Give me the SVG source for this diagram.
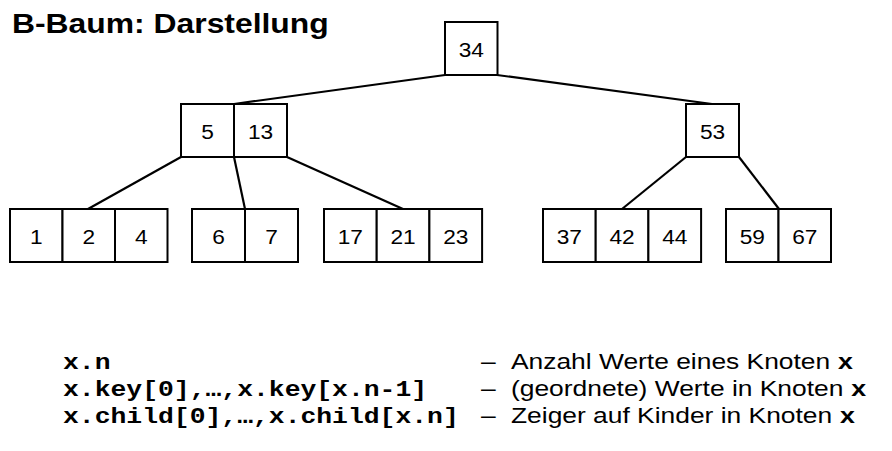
<svg xmlns="http://www.w3.org/2000/svg" width="892" height="451" viewBox="0 0 892 451">
<style>
.cell{fill:#fff;stroke:#000;stroke-width:2}
.num{font-family:"Liberation Sans",Arial,sans-serif;font-size:21px;text-anchor:middle;fill:#000}
.edge{stroke:#000;stroke-width:2.2;fill:none}
.title{font-family:"Liberation Sans",Arial,sans-serif;font-size:27px;font-weight:bold;fill:#000}
.mono{font-family:"Liberation Mono","Courier New",monospace;font-size:22px;font-weight:bold;fill:#000}
.txt{font-family:"Liberation Sans",Arial,sans-serif;font-size:22px;fill:#000}
</style>
<rect width="892" height="451" fill="#fff"/>
<text class="title" transform="translate(12,33) scale(1.18,1)">B-Baum: Darstellung</text>
<g id="connectors">
<line class="edge" x1="445" y1="75" x2="234" y2="104"/>
<line class="edge" x1="497" y1="75" x2="712" y2="104"/>
<line class="edge" x1="181" y1="157" x2="88" y2="209"/>
<line class="edge" x1="234" y1="157" x2="245" y2="209"/>
<line class="edge" x1="287" y1="157" x2="403" y2="209"/>
<line class="edge" x1="686" y1="157" x2="622" y2="209"/>
<line class="edge" x1="739" y1="157" x2="779" y2="209"/>
</g>
<g id="n34">
<rect class="cell" x="445" y="22" width="52.5" height="53"/>
<text class="num" transform="translate(471.25,56.5) scale(1.08,1)">34</text>
</g>
<g id="n5_13">
<rect class="cell" x="181" y="104" width="53" height="53"/>
<rect class="cell" x="234" y="104" width="53" height="53"/>
<text class="num" transform="translate(207.5,138.5) scale(1.08,1)">5</text>
<text class="num" transform="translate(260.5,138.5) scale(1.08,1)">13</text>
</g>
<g id="n53">
<rect class="cell" x="686" y="104" width="53" height="53"/>
<text class="num" transform="translate(712.5,138.5) scale(1.08,1)">53</text>
</g>
<g id="n1_2_4">
<rect class="cell" x="10" y="209" width="52.5" height="53"/>
<rect class="cell" x="62.5" y="209" width="52.5" height="53"/>
<rect class="cell" x="115" y="209" width="52.5" height="53"/>
<text class="num" transform="translate(36.25,244) scale(1.08,1)">1</text>
<text class="num" transform="translate(88.75,244) scale(1.08,1)">2</text>
<text class="num" transform="translate(141.25,244) scale(1.08,1)">4</text>
</g>
<g id="n6_7">
<rect class="cell" x="192" y="209" width="53" height="53"/>
<rect class="cell" x="245" y="209" width="53" height="53"/>
<text class="num" transform="translate(218.5,244) scale(1.08,1)">6</text>
<text class="num" transform="translate(271.5,244) scale(1.08,1)">7</text>
</g>
<g id="n17_21_23">
<rect class="cell" x="324" y="209" width="52.7" height="53"/>
<rect class="cell" x="376.7" y="209" width="52.7" height="53"/>
<rect class="cell" x="429.4" y="209" width="52.7" height="53"/>
<text class="num" transform="translate(350.35,244) scale(1.08,1)">17</text>
<text class="num" transform="translate(403.05,244) scale(1.08,1)">21</text>
<text class="num" transform="translate(455.75,244) scale(1.08,1)">23</text>
</g>
<g id="n37_42_44">
<rect class="cell" x="543" y="209" width="52.7" height="53"/>
<rect class="cell" x="595.7" y="209" width="52.7" height="53"/>
<rect class="cell" x="648.4" y="209" width="52.7" height="53"/>
<text class="num" transform="translate(569.35,244) scale(1.08,1)">37</text>
<text class="num" transform="translate(622.05,244) scale(1.08,1)">42</text>
<text class="num" transform="translate(674.75,244) scale(1.08,1)">44</text>
</g>
<g id="n59_67">
<rect class="cell" x="726" y="209" width="52.5" height="53"/>
<rect class="cell" x="778.5" y="209" width="52.5" height="53"/>
<text class="num" transform="translate(752.25,244) scale(1.08,1)">59</text>
<text class="num" transform="translate(804.75,244) scale(1.08,1)">67</text>
</g>
<g id="legend">
<text class="mono" transform="translate(63,369) scale(1.2,1)">x.n</text>
<text class="mono" transform="translate(63,396) scale(1.2,1)">x.key[0],…,x.key[x.n-1]</text>
<text class="mono" transform="translate(63,423) scale(1.2,1)">x.child[0],…,x.child[x.n]</text>
<text class="txt" transform="translate(481,369) scale(1.2,1)"><tspan>–</tspan><tspan x="25">Anzahl Werte eines Knoten </tspan><tspan class="mono">x</tspan></text>
<text class="txt" transform="translate(481,396) scale(1.2,1)"><tspan>–</tspan><tspan x="25">(geordnete) Werte in Knoten </tspan><tspan class="mono">x</tspan></text>
<text class="txt" transform="translate(481,423) scale(1.2,1)"><tspan>–</tspan><tspan x="25">Zeiger auf Kinder in Knoten </tspan><tspan class="mono">x</tspan></text>
</g>
</svg>
